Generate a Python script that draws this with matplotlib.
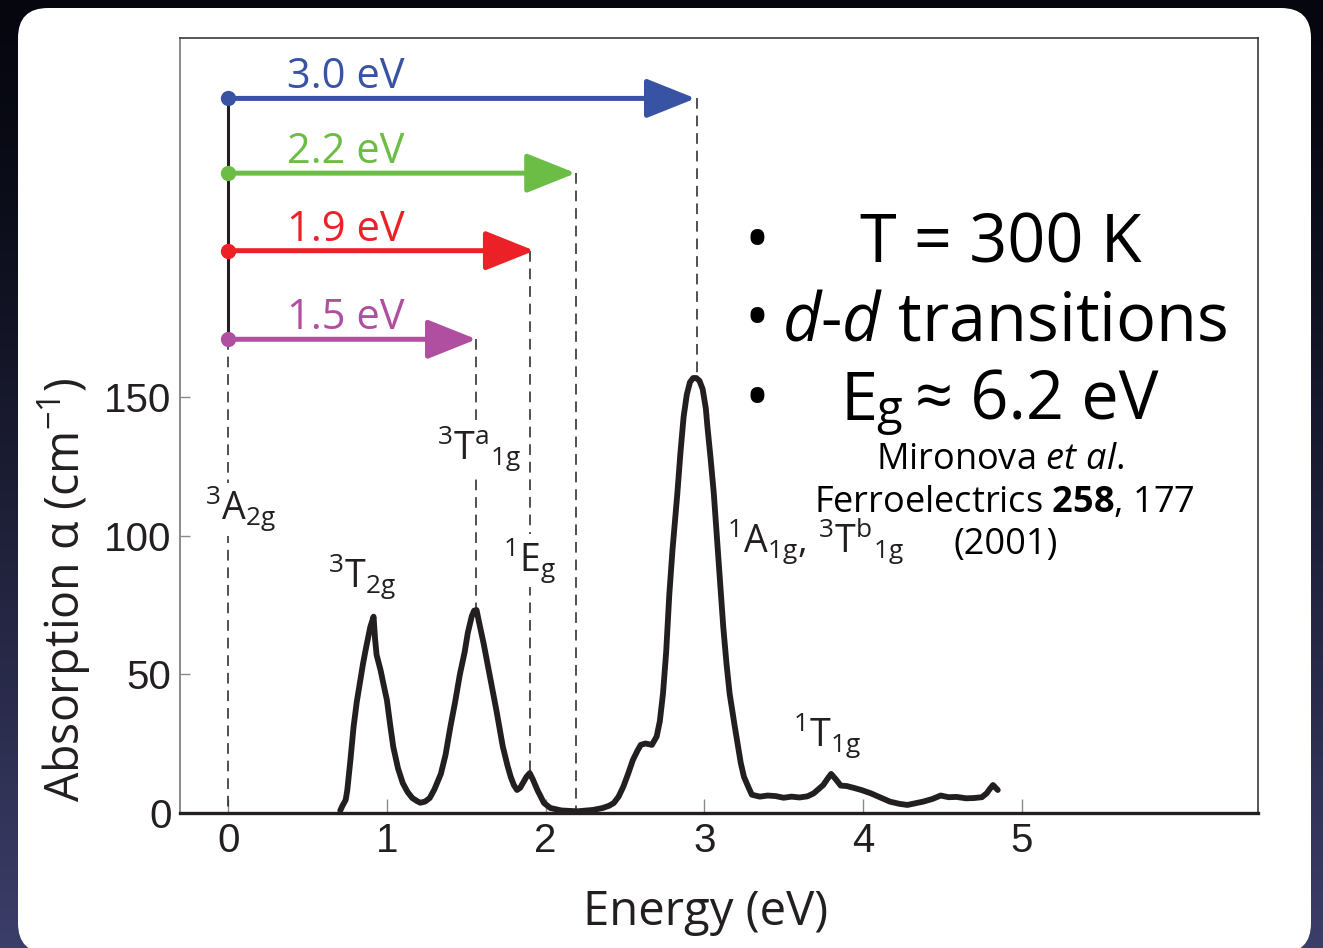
import numpy as np
import matplotlib
matplotlib.use("Agg")
import matplotlib.pyplot as plt
from matplotlib.patches import FancyBboxPatch
from matplotlib.colors import to_rgb

# ---------------- data ----------------
energy = [0.706, 0.72, 0.74, 0.75, 0.77, 0.79, 0.81, 0.83, 0.85, 0.87, 0.895,
          0.916, 0.925, 0.935, 0.96, 0.98, 1.00, 1.02, 1.04, 1.07, 1.10, 1.13,
          1.16, 1.19, 1.21, 1.24, 1.27, 1.30, 1.34, 1.37, 1.40, 1.43, 1.46,
          1.49, 1.51, 1.535, 1.55, 1.565, 1.58, 1.61, 1.65, 1.69, 1.73, 1.76,
          1.78, 1.80, 1.82, 1.84, 1.86, 1.88, 1.90, 1.92, 1.95, 1.99, 2.03,
          2.10, 2.20, 2.30, 2.36, 2.40, 2.43, 2.46, 2.49, 2.52, 2.55, 2.58,
          2.60, 2.63, 2.67, 2.70, 2.72, 2.74, 2.76, 2.78, 2.80, 2.83, 2.85,
          2.87, 2.89, 2.91, 2.93, 2.95, 2.97, 2.99, 3.01, 3.02, 3.04, 3.06,
          3.09, 3.12, 3.14, 3.16, 3.19, 3.21, 3.23, 3.25, 3.28, 3.30, 3.35,
          3.40, 3.45, 3.50, 3.55, 3.60, 3.65, 3.69, 3.72, 3.75, 3.78, 3.80,
          3.83, 3.86, 3.90, 3.94, 3.99, 4.05, 4.11, 4.17, 4.23, 4.28, 4.33,
          4.38, 4.44, 4.49, 4.54, 4.59, 4.65, 4.70, 4.75, 4.78, 4.80, 4.82,
          4.85]
absorption = [0.8, 2.5, 4.6, 8, 19, 31, 40, 47, 54, 60, 67,
              70.8, 63, 57, 51.5, 46, 40.7, 32, 23.8, 16, 10.7, 7.5,
              5.3, 4.2, 3.6, 4.0, 5.3, 8.5, 14, 21, 31, 40, 50,
              58, 65, 71, 73, 73.2, 69, 61, 49, 37, 24, 17,
              13, 10, 8.2, 9, 11, 13, 14.3, 12, 8, 3.5, 1.7,
              0.8, 0.5, 1.0, 1.7, 2.5, 3.5, 5.8, 9.4, 14, 19, 22.5,
              24.5, 25, 24.5, 27.5, 33, 43, 58, 79, 95, 115, 130,
              143, 151, 155.5, 157, 157, 156, 153, 146, 139.5, 128, 115.5,
              91, 67, 54, 43, 32, 25, 18, 13, 9, 6.5, 5.8,
              6.2, 6.0, 5.4, 5.8, 5.5, 5.9, 7, 8.5, 10, 12.5, 14,
              12, 9.8, 9.6, 9, 8.2, 7, 5.5, 4, 3.2, 2.8, 3.4,
              4, 5.0, 6.2, 5.6, 5.7, 5.2, 5.3, 5.6, 7, 8.6, 10,
              8.2]

arrow_labels = ["1.5 eV", "1.9 eV", "2.2 eV", "3.0 eV"]
arrow_end = [1.565, 1.93, 2.19, 2.945]
arrow_level = [171, 203, 231, 258]
arrow_colors = ["#b04fa0", "#ec2127", "#6cbd45", "#3953a4"]

drop_x = [0, 1.56, 1.90, 2.19, 2.955]
drop_top = [171, 171, 203, 231, 258]
drop_bottom = [0, 73, 14, 0, 157]

state_labels = [r"${}^{3}\mathrm{A}_{\mathrm{2g}}$",
                r"${}^{3}\mathrm{T}_{\mathrm{2g}}$",
                r"${}^{3}\mathrm{T}^{\mathrm{a}}{}_{\mathrm{1g}}$",
                r"${}^{1}\mathrm{E}_{\mathrm{g}}$",
                r"${}^{1}\mathrm{A}_{\mathrm{1g}}\mathrm{,}\ {}^{3}\mathrm{T}^{\mathrm{b}}{}_{\mathrm{1g}}$",
                r"${}^{1}\mathrm{T}_{\mathrm{1g}}$"]
state_x = [-0.145, 0.63, 1.317, 1.733, 3.144, 3.56]
state_y = [105.7, 81.1, 127.4, 87.1, 94.1, 23.8]

xticks = [0, 1, 2, 3, 4, 5]
yticks = [0, 50, 100, 150]

# ---------------- style ----------------
plt.rcParams["font.family"] = ["Open Sans", "DejaVu Sans"]
plt.rcParams["mathtext.fontset"] = "custom"
plt.rcParams["mathtext.rm"] = "Open Sans"
plt.rcParams["mathtext.it"] = "Open Sans:italic"
plt.rcParams["mathtext.bf"] = "Open Sans:bold"

W, H = 1323, 948
fig = plt.figure(figsize=(W / 100, H / 100), dpi=100)

# background gradient
bg = fig.add_axes([0, 0, 1, 1], zorder=-10)
top = np.array(to_rgb("#05060e"))
bot = np.array(to_rgb("#3c3e6a"))
t = np.linspace(0, 1, 256)[:, None] ** 1.3
grad = top[None, :] * (1 - t) + bot[None, :] * t
bg.imshow(grad[:, None, :], aspect="auto", extent=[0, 1, 0, 1])
bg.axis("off")

# white rounded panel
panel = FancyBboxPatch((0.18, -0.05), 12.93, 9.45,
                       boxstyle="round,pad=0,rounding_size=0.3",
                       transform=fig.dpi_scale_trans, facecolor="white",
                       edgecolor="none", zorder=-5)
fig.patches.append(panel)

px0, px1, py0, py1 = 180, 1258, 37.5, 812.7
ax = fig.add_axes([px0 / W, 1 - py1 / H, (px1 - px0) / W, (py1 - py0) / H])
ax.set_facecolor("white")
ax.set_xlim(-0.304, 6.49)
ax.set_ylim(0, 280)

ink = "#231f20"

# spectrum
ax.plot(energy, absorption, color=ink, lw=4.2, solid_joinstyle="round",
        solid_capstyle="round", zorder=6)

# dashed guide lines
for xv, y0, y1 in zip(drop_x, drop_top, drop_bottom):
    ax.plot([xv, xv], [y0, y1], color=ink, lw=1.1, dashes=(7, 4.5), zorder=2)

# vertical black stem
ax.plot([0, 0], [min(arrow_level), max(arrow_level)], color=ink, lw=2.2,
        zorder=3, solid_capstyle="butt")

# arrows
for lab, xe, lv, c in zip(arrow_labels, arrow_end, arrow_level, arrow_colors):
    ax.annotate("", xy=(xe, lv), xytext=(0, lv),
                arrowprops=dict(arrowstyle="-|>,head_length=1.05,head_width=0.42",
                                mutation_scale=29, lw=3.6, color=c,
                                shrinkA=0, shrinkB=0),
                zorder=4)
    ax.plot([0], [lv], "o", color=c, ms=10, zorder=5)
    ax.text(0.37, lv + 3.6, lab, color=c, fontsize=30, ha="left",
            va="baseline", zorder=5)

# state labels
for s, xv, yv in zip(state_labels, state_x, state_y):
    ax.text(xv, yv, s, fontsize=27, color=ink, ha="left", va="baseline",
            zorder=4, bbox=dict(facecolor="white", edgecolor="none", pad=1.0))

# bullet texts
bx = 3.255
ax.text(bx, 198.9, "\u2022", fontsize=48, color="black", ha="left", va="baseline")
ax.text(3.98, 198.9, "T = 300 K", fontsize=48, color="black", ha="left", va="baseline")
ax.text(bx, 170.7, "\u2022", fontsize=48, color="black", ha="left", va="baseline")
ax.text(3.49, 170.7, r"$\mathit{d}$-$\mathit{d}$ transitions", fontsize=48,
        color="black", ha="left", va="baseline")
ax.text(bx, 141.9, "\u2022", fontsize=48, color="black", ha="left", va="baseline")
ax.text(3.856, 141.9, "E", fontsize=48, color="black", ha="left", va="baseline")
ax.text(4.085, 140.3, "g", fontsize=34, color="black", ha="left", va="baseline")
ax.text(4.33, 141.9, "\u2248 6.2 eV", fontsize=48, color="black", ha="left",
        va="baseline")

ax.text(4.865, 124.0, r"Mironova $\mathit{et\ al}$.", fontsize=26,
        color="black", ha="center", va="baseline")
ax.text(4.89, 108.7, r"Ferroelectrics $\mathbf{258}$, 177", fontsize=26,
        color="black", ha="center", va="baseline")
ax.text(4.90, 93.6, "(2001)", fontsize=26, color="black", ha="center",
        va="baseline")

# axes styling
ax.set_xticks(xticks)
ax.set_yticks(yticks)
ax.set_xticklabels([str(v) for v in xticks], fontfamily="Liberation Sans",
                   fontsize=29, color=ink)
ax.set_yticklabels([str(v) for v in yticks], fontfamily="Liberation Sans",
                   fontsize=29, color=ink)
ax.tick_params(axis="x", direction="in", length=10, width=1.0, color="#8a8a8a",
               pad=7, top=False)
ax.tick_params(axis="y", direction="in", length=7, width=1.0, color="#8a8a8a",
               pad=6, right=False)
ax.spines["left"].set_color("#8a8a8a")
ax.spines["left"].set_linewidth(1.4)
ax.spines["bottom"].set_color(ink)
ax.spines["bottom"].set_linewidth(2.4)
ax.spines["top"].set_color("#3a3a3a")
ax.spines["top"].set_linewidth(1.2)
ax.spines["right"].set_color("#3a3a3a")
ax.spines["right"].set_linewidth(1.2)

fig.text(80 / W, 1 - 590 / H, r"Absorption $\mathrm{\alpha}$ (cm$^{\mathrm{-1}}$)",
         rotation=90, fontsize=33.5, color=ink, ha="center", va="baseline",
         rotation_mode="anchor")
fig.text(706 / W, 1 - 925 / H, "Energy (eV)", fontsize=34, color=ink,
         ha="center", va="baseline")

fig.savefig("out.png", dpi=100)
